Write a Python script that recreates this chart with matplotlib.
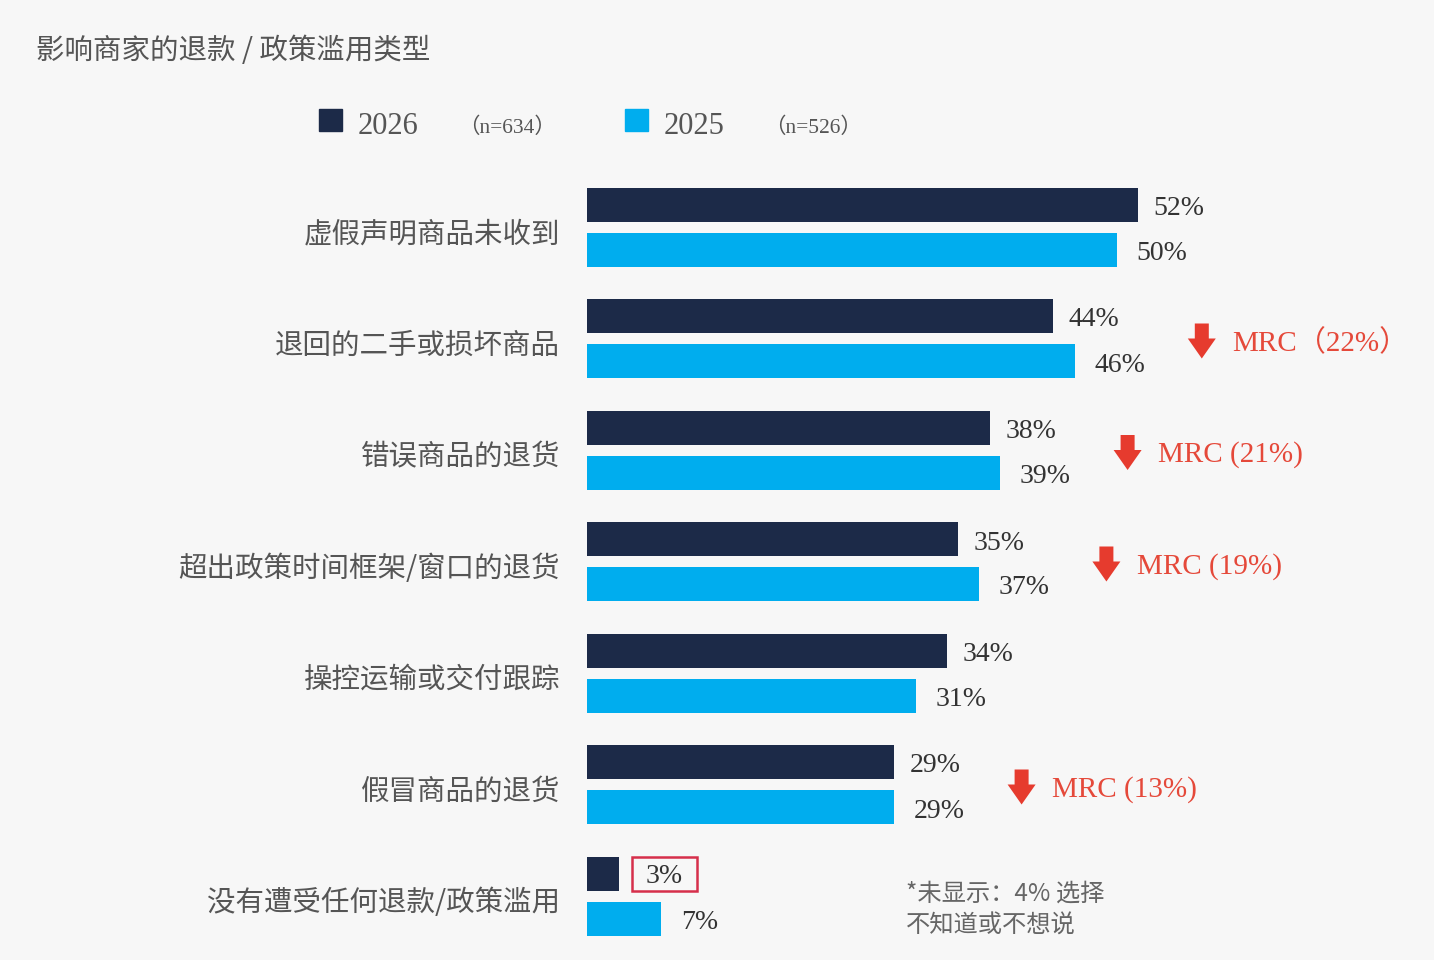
import matplotlib
matplotlib.use("Agg")
import matplotlib.pyplot as plt
from matplotlib.patches import Rectangle, Polygon

plt.rcParams['font.family'] = ['Noto Sans CJK SC', 'DejaVu Sans']
SERIF = ['Liberation Serif', 'Noto Sans CJK SC', 'DejaVu Sans']

categories = ["虚假声明商品未收到", "退回的二手或损坏商品", "错误商品的退货",
              "超出政策时间框架/窗口的退货", "操控运输或交付跟踪", "假冒商品的退货",
              "没有遭受任何退款/政策滥用"]
v2026 = [52, 44, 38, 35, 34, 29, 3]
v2025 = [50, 46, 39, 37, 31, 29, 7]
mrc_labels = [None, "MRC（22%）", "MRC (21%)", "MRC (19%)", None, "MRC (13%)", None]
legend_labels = ["2026", "2025"]
legend_n = ["（n=634）", "（n=526）"]
title = "影响商家的退款 / 政策滥用类型"
footnote = "*未显示：4% 选择\n不知道或不想说"

C_DARK = "#1C2A48"
C_LIGHT = "#00ADEE"
C_RED = "#E63B2E"
C_RED_TXT = "#E5493A"
BG = "#F7F7F7"

W, H = 1434, 960
fig = plt.figure(figsize=(W / 100, H / 100), dpi=100, facecolor=BG)

PX_PER_PCT = 10.6
x0 = 587
xmax = (W - x0) / PX_PER_PCT
ax = fig.add_axes([x0 / W, 0, 1 - x0 / W, 1])
ax.set_facecolor(BG)
ax.set_xlim(0, xmax)
ax.set_ylim(H, 0)
ax.axis("off")

first_dark = 204.5
offset = 45
step = 111.5
bh = 34
last = len(categories) - 1
box_w = 65 / PX_PER_PCT

for i, cat in enumerate(categories):
    yd = first_dark + i * step
    yl = yd + offset
    ax.barh(yd, v2026[i], height=bh, color=C_DARK)
    ax.barh(yl, v2025[i], height=bh, color=C_LIGHT)
    if i == last:
        bx = v2026[i] + 1.2
        ax.add_patch(Rectangle((bx, yd - 17), box_w, 34,
                               fill=False, edgecolor="#D62F4B", lw=1.8))
        ax.text(bx + box_w / 2, yd + 3, f"{v2026[i]}%", ha="center", va="center",
                fontsize=20, color="#333333", family=SERIF)
    else:
        ax.text(v2026[i] + 1.45, yd + 4, f"{v2026[i]}%", ha="left", va="center",
                fontsize=20, color="#333333", family=SERIF)
    ax.text(v2025[i] + 1.85, yl + 4, f"{v2025[i]}%", ha="left", va="center",
            fontsize=20, color="#333333", family=SERIF)
    fig.text(560 / W, 1 - (yd + offset / 2 + 7) / H, cat, ha="right", va="center",
             fontsize=20.5, color="#555555", fontweight="light")
    if mrc_labels[i]:
        cx = max(v2026[i], v2025[i]) + 12.0
        cy = yd + offset / 2 + 3
        sw = 7 / PX_PER_PCT
        hw = 14 / PX_PER_PCT
        pts = [(cx - sw, cy - 18), (cx + sw, cy - 18), (cx + sw, cy - 3),
               (cx + hw, cy - 3), (cx, cy + 17), (cx - hw, cy - 3), (cx - sw, cy - 3)]
        ax.add_patch(Polygon(pts, closed=True, color=C_RED, lw=0))
        ax.text(cx + 2.9, cy + 2, mrc_labels[i], ha="left", va="center",
                fontsize=21, color=C_RED_TXT, family=SERIF)

# title
fig.text(36 / W, 1 - 51 / H, title, ha="left", va="center", fontsize=20.5,
         color="#555555", fontweight="light")

# legend
leg_x = [319, 625]
for k, col in enumerate([C_DARK, C_LIGHT]):
    fig.patches.append(Rectangle((leg_x[k] / W, 1 - 131 / H), 23 / W, 22 / H,
                                 transform=fig.transFigure, color=col))
    fig.text((leg_x[k] + 39) / W, 1 - 126 / H, legend_labels[k], ha="left", va="center",
             fontsize=22, color="#555555", family=SERIF)
    fig.text((leg_x[k] + 139) / W, 1 - 128 / H, legend_n[k], ha="left", va="center",
             fontsize=15.5, color="#555555", family=SERIF)

# footnote
fig.text(906 / W, 1 - 910 / H, footnote, ha="left", va="center", fontsize=17.5,
         color="#666666", linespacing=1.3, fontweight="light")

fig.savefig("out.png", dpi=100, facecolor=BG)
